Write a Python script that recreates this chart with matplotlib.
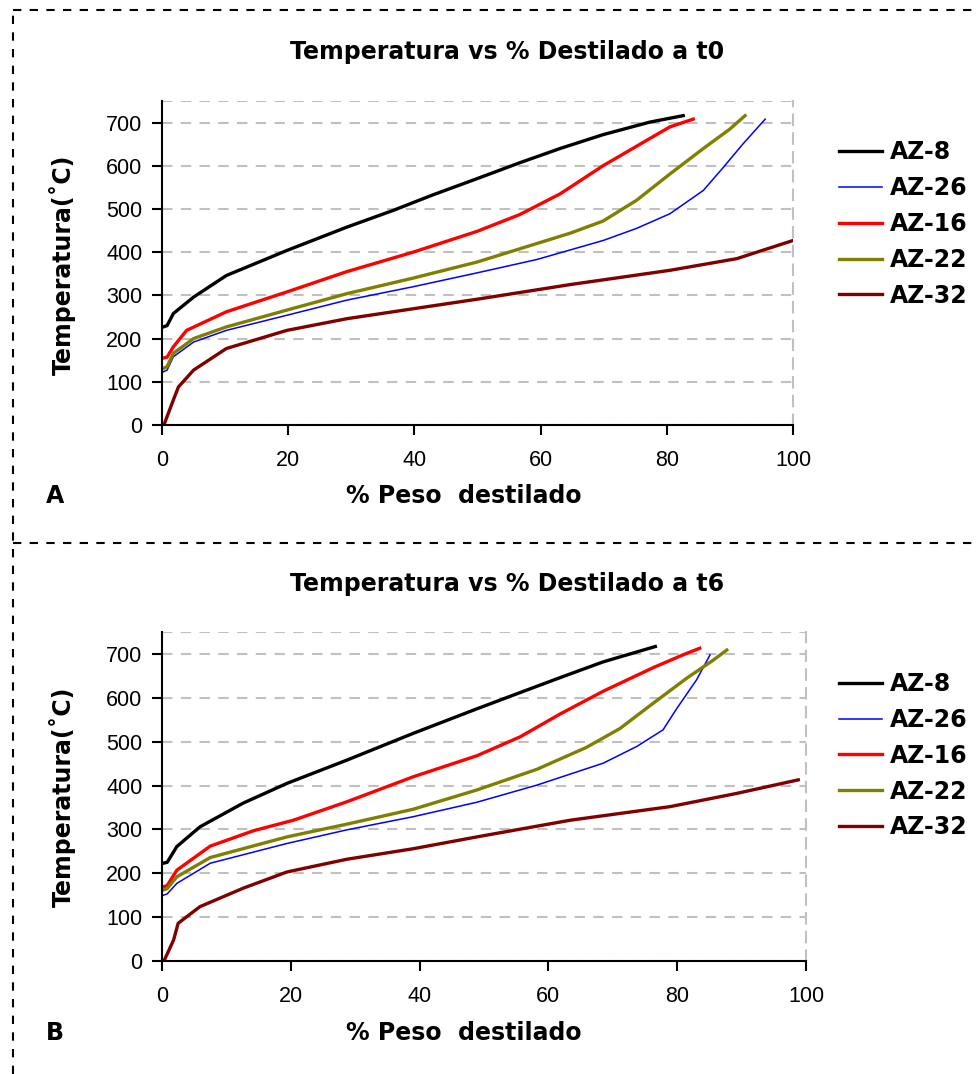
# Temperatura vs % Destilado (t0 / t6)
import matplotlib.pyplot as plt
from matplotlib.lines import Line2D

# =======================
# DATA
# =======================
SERIES = ["AZ-8", "AZ-26", "AZ-16", "AZ-22", "AZ-32"]

# Panel A - t0
a_az8_x = [0.2, 0.8, 1.8, 5, 10.2, 19.8, 29.3, 36.7, 43, 49.9, 56.7, 63.1, 69.9, 77.3, 82.6]
a_az8_y = [227, 230, 258, 296, 346, 404, 458, 497, 533, 570, 607, 640, 672, 701, 716]
a_az26_x = [0.2, 0.8, 1.8, 5, 10.2, 19.8, 29.3, 39.8, 49.9, 59.4, 69.9, 75.2, 80.5, 85.8, 89, 92.1, 95.6]
a_az26_y = [123, 127, 158, 192, 219, 254, 289, 320, 352, 383, 427, 455, 489, 543, 597, 651, 708]
a_az16_x = [0.2, 0.8, 1.8, 3.9, 10.2, 19.8, 29.3, 39.8, 49.9, 56.7, 63.1, 69.9, 77.3, 80.5, 84.2]
a_az16_y = [155, 157, 181, 219, 262, 308, 355, 400, 448, 487, 535, 600, 663, 690, 708]
a_az22_x = [0.2, 0.8, 1.8, 5, 10.2, 19.8, 29.3, 39.8, 49.9, 59.4, 64.7, 69.9, 75.2, 80.5, 85.8, 90, 92.4]
a_az22_y = [131, 135, 166, 200, 227, 266, 304, 340, 377, 420, 444, 472, 520, 581, 640, 685, 716]
a_az32_x = [0.3, 1.8, 2.6, 5, 10.2, 19.8, 29.3, 39.8, 49.9, 64.7, 80.5, 91.1, 100]
a_az32_y = [0, 58, 88, 127, 177, 219, 246, 269, 291, 325, 358, 385, 427]

# Panel B - t6
b_az8_x = [0.2, 0.8, 2.3, 5.9, 12.6, 19.4, 28.7, 39, 48.9, 55.6, 61.8, 68.5, 76.6]
b_az8_y = [223, 225, 261, 306, 360, 405, 458, 519, 575, 612, 646, 682, 717]
b_az26_x = [0.2, 0.8, 2.3, 7.5, 19.4, 28.7, 39, 48.9, 58.2, 68.5, 73.7, 77.8, 79.9, 83, 85.1]
b_az26_y = [150, 153, 177, 223, 268, 299, 329, 362, 401, 451, 489, 527, 575, 641, 698]
b_az16_x = [0.2, 0.8, 2.3, 7.5, 14.2, 20.4, 28.7, 39, 48.9, 55.6, 61.8, 68.5, 76.3, 80.9, 83.5]
b_az16_y = [169, 172, 207, 262, 297, 321, 363, 420, 468, 511, 563, 615, 669, 698, 713]
b_az22_x = [0.2, 0.8, 2.3, 7.5, 19.4, 28.7, 39, 48.9, 58.2, 65.9, 71.1, 76.3, 81.5, 85.6, 87.7]
b_az22_y = [162, 165, 192, 236, 283, 312, 346, 390, 437, 487, 530, 588, 645, 686, 709]
b_az32_x = [0.3, 1.8, 2.5, 5.9, 12.6, 19.4, 28.7, 39, 48.9, 63.4, 78.9, 89.2, 98.8]
b_az32_y = [0, 48, 86, 124, 166, 203, 232, 256, 283, 321, 352, 382, 413]

X_TICKS = [0, 20, 40, 60, 80, 100]
Y_TICKS = [0, 100, 200, 300, 400, 500, 600, 700]

COLORS = {"AZ-8": "#000000", "AZ-26": "#0000FF", "AZ-16": "#FF0000",
          "AZ-22": "#808000", "AZ-32": "#800000"}
WIDTHS = {"AZ-8": 2.4, "AZ-26": 1.1, "AZ-16": 2.4, "AZ-22": 2.4, "AZ-32": 2.4}


def draw_panel(ax, data, legend_top):
    for name in SERIES:
        xs, ys = data[name]
        ax.plot(xs, ys, color=COLORS[name], lw=WIDTHS[name], label=name)
    ax.set_xlim(0, 100)
    ax.set_ylim(0, 750)
    ax.set_xticks(X_TICKS)
    ax.set_yticks(Y_TICKS)
    ax.tick_params(labelsize=15.5, direction="out", length=7, width=1.5)
    ax.tick_params(axis="x", pad=11)
    ax.tick_params(axis="y", pad=7)
    for t in ax.get_xticklabels() + ax.get_yticklabels():
        t.set_fontfamily("Liberation Sans")
    ax.grid(axis="y", color="#c0c0c0", ls=(0, (5, 4)), lw=1.5)
    ax.axhline(750, color="#c0c0c0", ls=(0, (5, 4)), lw=1.5)
    ax.spines["top"].set_visible(False)
    ax.spines["right"].set_color("#c0c0c0")
    ax.spines["right"].set_linestyle((0, (5, 4)))
    ax.spines["right"].set_linewidth(1.5)
    ax.spines["left"].set_linewidth(1.5)
    ax.spines["bottom"].set_linewidth(1.5)
    ax.legend(loc="upper left", bbox_to_anchor=(0.835, legend_top),
              bbox_transform=fig.transFigure, frameon=False, handlelength=1.85,
              handletextpad=0.3, labelspacing=0.5,
              prop={"weight": "bold", "size": 17})


fig = plt.figure(figsize=(9.79, 10.74), dpi=100)

ax1 = fig.add_axes([0.1655, 0.6043, 0.6445, 0.3017])
draw_panel(ax1, {"AZ-8": (a_az8_x, a_az8_y), "AZ-26": (a_az26_x, a_az26_y),
                 "AZ-16": (a_az16_x, a_az16_y), "AZ-22": (a_az22_x, a_az22_y),
                 "AZ-32": (a_az32_x, a_az32_y)}, 0.889)

ax2 = fig.add_axes([0.1655, 0.1052, 0.6578, 0.3063])
draw_panel(ax2, {"AZ-8": (b_az8_x, b_az8_y), "AZ-26": (b_az26_x, b_az26_y),
                 "AZ-16": (b_az16_x, b_az16_y), "AZ-22": (b_az22_x, b_az22_y),
                 "AZ-32": (b_az32_x, b_az32_y)}, 0.394)

# titles and labels
fig.text(0.518, 0.9516, "Temperatura vs % Destilado a t0", ha="center", va="center",
         fontsize=17, fontweight="bold")
fig.text(0.518, 0.4562, "Temperatura vs % Destilado a t6", ha="center", va="center",
         fontsize=17, fontweight="bold")
for yl, yc, lab in [(0.5382, 0.7533, "A"), (0.0382, 0.258, "B")]:
    fig.text(0.474, yl, "% Peso  destilado", ha="center", va="center",
             fontsize=17, fontweight="bold")
    fig.text(0.056, yl, lab, ha="center", va="center", fontsize=17, fontweight="bold")
    fig.text(0.0633, yc, "Temperatura(˚C)", ha="center", va="center", rotation=90,
             fontsize=17, fontweight="bold")

# dashed outer frame
frame = dict(color="black", lw=1.5, ls=(0, (4, 4)), transform=fig.transFigure)
fig.add_artist(Line2D([0.0133, 1.0], [0.9907, 0.9907], **frame))
fig.add_artist(Line2D([0.0133, 1.0], [0.4944, 0.4944], **frame))
fig.add_artist(Line2D([0.0133, 0.0133], [0.0, 0.9907], **frame))

fig.savefig("out.png", dpi=100)
